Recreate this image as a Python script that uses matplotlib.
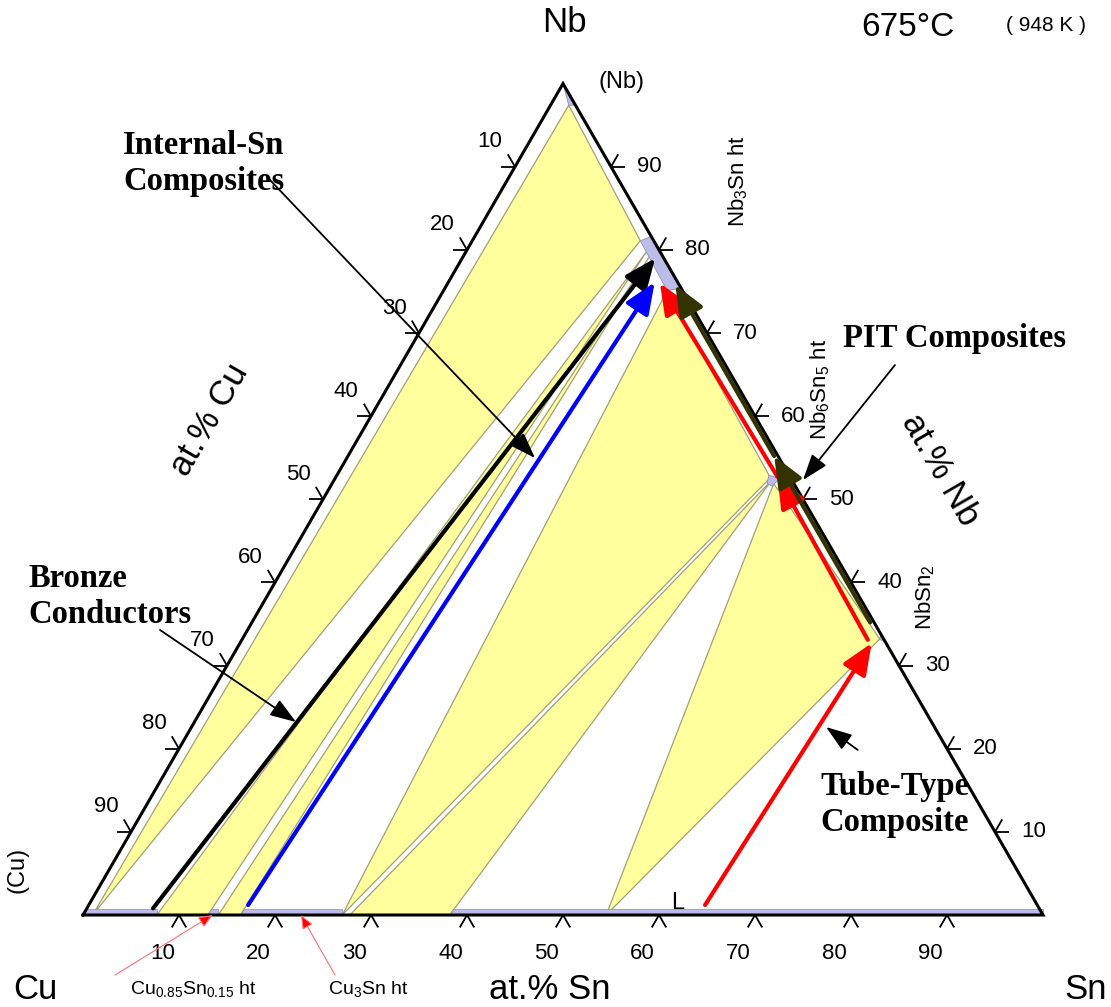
import numpy as np
import matplotlib
matplotlib.use('Agg')
from matplotlib import pyplot as plt
from matplotlib.patches import Polygon
from matplotlib.collections import LineCollection

plt.rcParams['font.family'] = ['Liberation Sans', 'DejaVu Sans']

SQ = np.sqrt(3) / 2

#-----------------------Phase data (at.% Sn, at.% Nb)-----------------------#

# three-phase triangles
tri_cu_nb_nb3sn = [(1.0, 0), (1.9, 97.4), (17.5, 81.1)]
tri_cu_beta_nb3sn = [(7.7, 0), (13.0, 0), (18.8, 79.7)]
tri_beta_gam_nb3sn = [(14.1, 0), (16.4, 0), (19.4, 79.1)]
tri_gam_nb3sn_nb6sn5 = [(27.0, 0), (23.3, 75.1), (45.3, 52.6)]
tri_gam_l_nb6sn5 = [(27.8, 0), (38.2, 0), (45.6, 52.3)]
tri_l_nb6sn5_nbsn2 = [(54.5, 0), (46.0, 51.9), (66.4, 33.2)]

# single phase fields
nb_ss = [(0, 100), (2.6, 97.4), (1.9, 97.4)]
nb3sn = [(18.4, 81.6), (24.6, 75.4), (23.3, 75.1), (17.5, 81.1)]
nb6sn5 = [(45.0, 52.9), (46.3, 52.5), (46.0, 51.6), (45.3, 51.9)]
nbsn2 = [(66.3, 33.7), (67.0, 33.0), (66.4, 33.1)]

# Cu-Sn binary phases along the base (Sn range)
binary_sn_ranges = [(0, 7.7), (13.0, 14.1), (16.4, 27.0), (38.2, 100)]

# reaction paths of the conductor routes
bronze_path = [(6.9, 0.8), (20.1, 79.0)]
internal_sn_path = [(16.6, 1.2), (21.5, 76.1)]
tube_paths = [[(64.2, 1.2), (65.8, 32.7)],
              [(65.2, 33.1), (46.0, 52.7)],
              [(46.0, 52.7), (22.1, 76.0)]]
pit_paths = [[(64.4, 35.2), (44.4, 55.2)],
             [(44.4, 55.2), (23.8, 75.8)]]

ticks = np.arange(10, 100, 10)


def tern(points):
    p = np.asarray(points, float) / 100
    return np.column_stack([p[:, 0] + p[:, 1] / 2, p[:, 1] * SQ])


def pt(sn, nb):
    return tuple(tern([(sn, nb)])[0])


#-----------------------Figure-----------------------#

fig = plt.figure(figsize=(11.11, 10.07), dpi=100)
ax = fig.add_axes([0, 0, 1, 1])
ax.set_xlim(-83 / 960, 1028 / 960)
ax.set_ylim(-92 / 960, 915 / 960)
ax.set_aspect('equal')
ax.axis('off')

yellow = '#ffff9e'
lavender = '#bcbcea'
edge = '#a0a078'

for tri in [tri_cu_nb_nb3sn, tri_cu_beta_nb3sn, tri_beta_gam_nb3sn,
            tri_gam_nb3sn_nb6sn5, tri_gam_l_nb6sn5, tri_l_nb6sn5_nbsn2]:
    ax.add_patch(Polygon(tern(tri), closed=True, fc=yellow, ec=edge, lw=0.9, zorder=2))

for ph in [nb_ss, nb3sn, nb6sn5, nbsn2]:
    ax.add_patch(Polygon(tern(ph), closed=True, fc=lavender, ec='#9090b0', lw=0.6, zorder=3))

strip = 0.7
for a, b in binary_sn_ranges:
    ax.add_patch(Polygon(tern([(a, 0), (b, 0), (b - strip / 2, strip), (a, strip)]),
                         closed=True, fc=lavender, ec='#8c8cb0', lw=0.5, zorder=3))

# triangle frame
frame = tern([(0, 0), (100, 0), (0, 100), (0, 0)])
ax.plot(frame[:, 0], frame[:, 1], color='k', lw=2.2, solid_joinstyle='miter', zorder=5)

# chevron ticks on the three axes
arm = 0.015
segs = []
for v in ticks:
    bx, by = pt(v, 0)
    segs += [[(bx, by), (bx - arm * 0.5, by - arm * SQ)],
             [(bx, by), (bx + arm * 0.5, by - arm * SQ)]]
    lx, ly = pt(0, 100 - v)
    segs += [[(lx, ly), (lx - arm, ly)],
             [(lx, ly), (lx - arm * 0.5, ly + arm * SQ)]]
    rx, ry = pt(100 - v, v)
    segs += [[(rx, ry), (rx + arm, ry)],
             [(rx, ry), (rx + arm * 0.5, ry + arm * SQ)]]
ax.add_collection(LineCollection(segs, colors='k', lw=1.3, zorder=5))

tfs = 16
for v in ticks:
    bx, by = pt(v, 0)
    ax.text(bx - 0.017, by - 0.040, str(v), ha='center', va='center', fontsize=tfs)
    lx, ly = pt(0, 100 - v)
    ax.text(lx - 0.026, ly + 0.026, str(v), ha='center', va='center', fontsize=tfs)
    rx, ry = pt(100 - v, v)
    ax.text(rx + 0.040, ry, str(v), ha='center', va='center', fontsize=tfs)


def path_arrow(p0, p1, color, lw=3, hl=0.95, hw=0.4, ms=20, z=6):
    ax.annotate('', xy=pt(*p1), xytext=pt(*p0),
                arrowprops=dict(arrowstyle=f'-|>,head_length={hl},head_width={hw}',
                                color=color, lw=lw, shrinkA=0, shrinkB=0,
                                mutation_scale=ms), zorder=z)


path_arrow(*bronze_path, 'black')
path_arrow(*internal_sn_path, '#0000ff')
for seg in tube_paths:
    path_arrow(*seg, '#ff0000')
for seg in pit_paths:
    path_arrow(*seg, '#333300')


def note_arrow(tail, tip, color='k', lw=1.3, hl=0.8, hw=0.28, ms=20):
    ax.annotate('', xy=tip, xytext=tail,
                arrowprops=dict(arrowstyle=f'-|>,head_length={hl},head_width={hw}',
                                color=color, lw=lw, shrinkA=0, shrinkB=0,
                                mutation_scale=ms), zorder=7)


note_arrow((0.1948, 0.7656), (0.4708, 0.4760))
note_arrow((0.0802, 0.2969), (0.2219, 0.2010))
note_arrow((0.8458, 0.5729), (0.7500, 0.4531))
note_arrow((0.8070, 0.1720), (0.7740, 0.1958))

# pointers to the binary phases
for tail, tip in [((0.0333, -0.0625), pt(13.5, 0)), ((0.2625, -0.0625), pt(22.7, 0))]:
    ax.annotate('', xy=tip, xytext=tail,
                arrowprops=dict(arrowstyle='-|>,head_length=0.6,head_width=0.25',
                                color='#ff7070', fc='#ff0000', ec='#ff7070', lw=0.8,
                                shrinkA=0, shrinkB=0, mutation_scale=14), zorder=7)

#-----------------------Labels-----------------------#

big = 25
ax.text(0.502, 0.930, 'Nb', ha='center', va='center', fontsize=big)
ax.text(-0.050, -0.078, 'Cu', ha='center', va='center', fontsize=big)
ax.text(1.044, -0.078, 'Sn', ha='center', va='center', fontsize=big)
ax.text(0.486, -0.078, 'at.% Sn', ha='center', va='center', fontsize=big)
ax.text(0.132, 0.516, 'at.% Cu', ha='center', va='center', fontsize=big, rotation=60)
ax.text(0.893, 0.464, 'at.% Nb', ha='center', va='center', fontsize=big, rotation=-60)
ax.text(0.859, 0.925, '675°C', ha='center', va='center', fontsize=24)
ax.text(1.003, 0.927, '( 948 K )', ha='center', va='center', fontsize=15)

ax.text(0.561, 0.868, '(Nb)', ha='center', va='center', fontsize=17)
ax.text(-0.068, 0.047, '(Cu)', ha='center', va='center', fontsize=17, rotation=90)
ax.text(0.619, 0.0125, 'L', ha='center', va='center', fontsize=17)

pfs = 16
ax.text(0.682, 0.764, r'Nb$_\mathregular{3}$Sn ht', ha='center', va='center',
        fontsize=pfs, rotation=90)
ax.text(0.768, 0.547, r'Nb$_\mathregular{6}$Sn$_\mathregular{5}$ ht', ha='center',
        va='center', fontsize=pfs, rotation=90)
ax.text(0.877, 0.331, r'NbSn$_\mathregular{2}$', ha='center', va='center',
        fontsize=pfs, rotation=90)
ax.text(0.115, -0.078, r'Cu$_\mathregular{0.85}$Sn$_\mathregular{0.15}$ ht',
        ha='center', va='center', fontsize=14)
ax.text(0.297, -0.078, r'Cu$_\mathregular{3}$Sn ht', ha='center', va='center', fontsize=14)

serif = dict(family=['Liberation Serif', 'DejaVu Serif'], weight='bold', fontsize=23.5)
ax.text(0.042, 0.783, 'Internal-Sn\nComposites', ha='left', va='center', **serif)
ax.text(-0.057, 0.332, 'Bronze\nConductors', ha='left', va='center', **serif)
ax.text(0.792, 0.601, 'PIT Composites', ha='left', va='center', **serif)
ax.text(0.768, 0.115, 'Tube-Type\nComposite', ha='left', va='center', **serif)

fig.savefig('out.png', dpi=100)
